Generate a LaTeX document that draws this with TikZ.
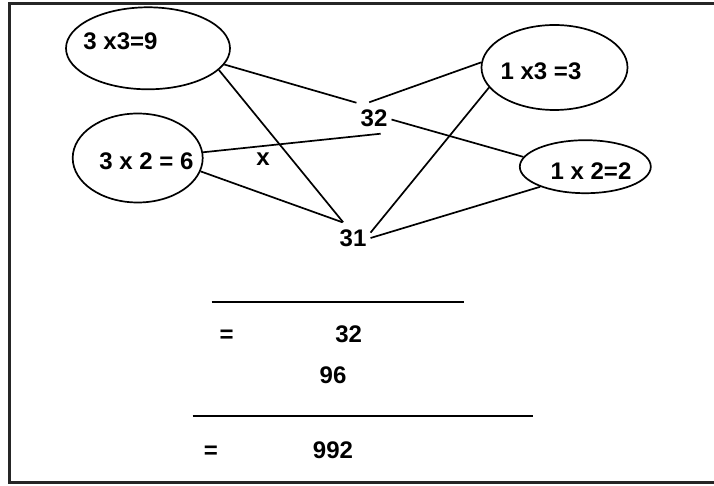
\documentclass[tikz,border=0pt]{standalone}
\usepackage{fontspec}
\setmainfont{Liberation Sans}
\usetikzlibrary{shapes.geometric}
\tikzset{
  prod/.style = {draw, ellipse, line width=1.7pt, inner sep=0pt},
  txt/.style  = {font=\fontsize{24}{28}\selectfont\bfseries, inner sep=0pt},
  num/.style  = {font=\fontsize{24}{28}\selectfont\bfseries, inner xsep=4pt, inner ysep=7pt},
  link/.style = {line width=1.7pt},
  rule/.style = {line width=1.8pt},
}

\begin{document}
\begin{tikzpicture}[x=1pt, y=-1pt]
  \useasboundingbox (0,0) rectangle (714,486);
  \clip (0,0) rectangle (714,486);
  \draw[line width=3pt, black!85] (730,3.5) -- (9.5,3.5) -- (9.5,482.5) -- (730,482.5);
  % partial products
  \node[prod, minimum width=164pt, minimum height=82pt] (e1) at (148,48.3) {};
  \node[prod, minimum width=130pt, minimum height=89pt] (e2) at (137.7,158) {};
  \node[prod, minimum width=146pt, minimum height=85pt] (e3) at (554.5,67.5) {};
  \node[prod, minimum width=131pt, minimum height=53pt] (e4) at (585.3,166.7) {};
  \node[txt] (t1) at (120.5,41) {3 x3=9};
  \node[txt] (t2) at (146.5,161) {3 x 2 = 6};
  \node[txt] (t3) at (541,71) {1 x3 =3};
  \node[txt] (t4) at (591,171) {1 x 2=2};
  \node[txt] (cross) at (263,159) {x};
  % the two factors
  \node[num] (n32) at (374,118) {32};
  \node[num] (n31) at (353,238) {31};
  \draw[link] (e1.-12) -- (n32.139);
  \draw[link] (e1.-17) -- (n31.122);
  \draw[link] (e2.5) -- (n32.-67);
  \draw[link] (e2.-12) -- (n31.124);
  \draw[link] (n32.107) -- (e3.176);
  \draw[link] (n32.-5) -- (e4.171);
  \draw[link] (n31.17) -- (e3.197);
  \draw[link] (n31.0) -- (e4.204);
  % result
  \draw[rule] (211.7,302.3) -- (464.3,302.3);
  \node[txt, anchor=base] (eqa) at (226.7,342.7) {=};
  \node[txt, anchor=base] (ra) at (348.7,342.7) {32};
  \node[txt, anchor=base] (rb) at (333,383.3) {96};
  \draw[rule] (192.7,415.7) -- (532.7,415.7);
  \node[txt, anchor=base] (eqb) at (211,458.3) {=};
  \node[txt, anchor=base] (res) at (333,458.3) {992};
\end{tikzpicture}
\end{document}
